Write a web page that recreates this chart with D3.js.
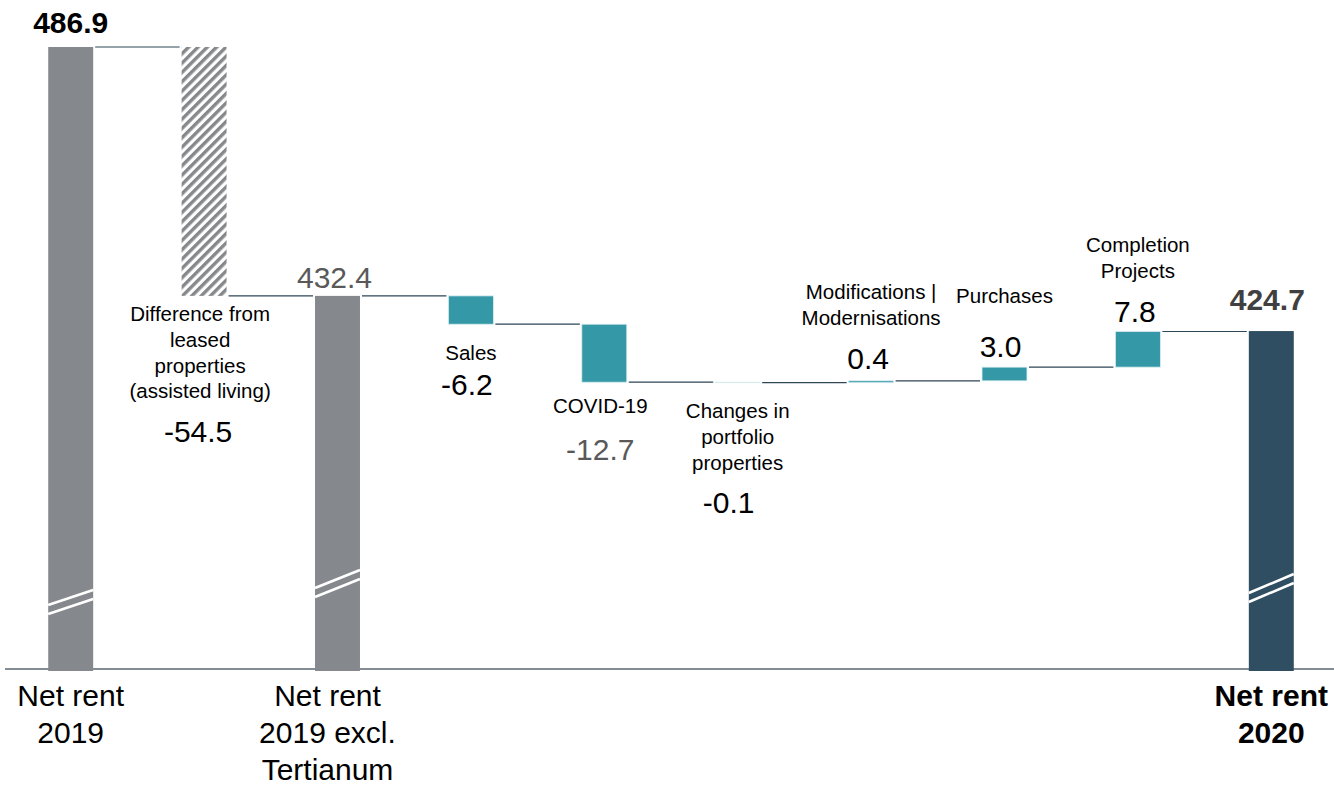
<!DOCTYPE html>
<html>
<head>
<meta charset="utf-8">
<script src="https://cdn.jsdelivr.net/npm/d3@7"></script>
<style>
  html, body { margin: 0; padding: 0; background: #fff; }
  svg text { font-family: "Liberation Sans", Arial, sans-serif; }
</style>
</head>
<body>
<svg id="chart" width="1334" height="786"></svg>
<script>
// chart data
var categories = [
    "Net rent 2019",
    "Difference from leased properties (assisted living)",
    "Net rent 2019 excl. Tertianum",
    "Sales",
    "COVID-19",
    "Changes in portfolio properties",
    "Modifications | Modernisations",
    "Purchases",
    "Completion Projects",
    "Net rent 2020"
];
var values = [486.9, -54.5, 432.4, -6.2, -12.7, -0.1, 0.4, 3.0, 7.8, 424.7];
var kinds = ["total", "hatch", "total", "delta", "delta", "delta", "delta", "delta", "delta", "final"];
var valueLabels = ["486.9", "-54.5", "432.4", "-6.2", "-12.7", "-0.1", "0.4", "3.0", "7.8", "424.7"];

// text layout (lines + baselines), kept apart from the data
var layout = [
    {bottom: ["Net rent", "2019"], valueY: 33, bold: true, color: "#000"},
    {lines: ["Difference from", "leased", "properties", "(assisted living)"], linesY: 321, valueY: 442, dx: -6, linesDx: -4},
    {bottom: ["Net rent", "2019 excl.", "Tertianum"], bottomDx: -10, valueY: 288, color: "#595959", dx: -3},
    {lines: ["Sales"], linesY: 360, valueY: 395, dx: -4},
    {lines: ["COVID-19"], linesY: 413, valueY: 460, color: "#595959", dx: -4, linesDx: -4},
    {lines: ["Changes in", "portfolio", "properties"], linesY: 418, valueY: 513, dx: -9},
    {lines: ["Modifications |", "Modernisations"], linesY: 299, valueY: 369, dx: -3},
    {lines: ["Purchases"], linesY: 303, valueY: 357, dx: -4},
    {lines: ["Completion", "Projects"], linesY: 252, valueY: 322, dx: -3},
    {bottom: ["Net rent", "2020"], bottomBold: true, valueY: 310, bold: true, color: "#404040", dx: -4}
];

// axis break marks on the total bars (left y, right y of upper line)
var breakMarks = {0: [605, 590], 2: [588, 570], 9: [593, 574]};

var width = 1334, height = 786;
var baseY = 669;

var svg = d3.select("#chart");

var x = d3.scaleBand()
    .domain(categories)
    .range([4, 1338])
    .paddingInner(0.663)
    .paddingOuter(0.3315);

var y = d3.scaleLinear()
    .domain([350.7, 486.9])
    .range([baseY, 47]);

// hatch pattern
var defs = svg.append("defs");
var pat = defs.append("pattern")
    .attr("id", "hatch")
    .attr("patternUnits", "userSpaceOnUse")
    .attr("width", 6.6)
    .attr("height", 6.6)
    .attr("patternTransform", "rotate(45)");
pat.append("rect").attr("width", 6.6).attr("height", 6.6).attr("fill", "#fff");
pat.append("rect").attr("width", 3.4).attr("height", 6.6).attr("fill", "#85898d");

// build waterfall segments
var running = 0;
var bars = categories.map(function (c, i) {
    var v = values[i];
    var d = {name: c, i: i, kind: kinds[i], value: v};
    if (kinds[i] === "total" || kinds[i] === "final") {
        d.y0 = y.domain()[0];
        d.y1 = v;
        running = v;
    } else {
        d.y0 = running;
        d.y1 = running + v;
        running = running + v;
    }
    d.end = running;
    return d;
});

// baseline
svg.append("line")
    .attr("x1", 5).attr("x2", width)
    .attr("y1", baseY).attr("y2", baseY)
    .attr("stroke", "#5b6770")
    .attr("stroke-width", 1.5);

var fillFor = function (d) {
    if (d.kind === "total") return "#85898d";
    if (d.kind === "final") return "#2f4e61";
    if (d.kind === "hatch") return "url(#hatch)";
    return "#3598a6";
};

svg.selectAll("rect.bar")
    .data(bars)
    .enter()
    .append("rect")
    .attr("class", "bar")
    .attr("x", function (d) { return x(d.name); })
    .attr("width", x.bandwidth())
    .attr("y", function (d) { return Math.min(y(d.y0), y(d.y1)); })
    .attr("height", function (d) {
        var h = Math.abs(y(d.y0) - y(d.y1));
        if (d.kind === "total" || d.kind === "final") h += 2;
        return h;
    })
    .attr("fill", fillFor)
    .attr("stroke", function (d) { return d.kind === "delta" ? "#d6ecef" : "none"; })
    .attr("stroke-width", 0.8);

// break marks
Object.keys(breakMarks).forEach(function (k) {
    var d = bars[+k];
    var x0 = x(d.name), x1 = x0 + x.bandwidth();
    var m = breakMarks[k];
    [0, 9].forEach(function (off) {
        svg.append("line")
            .attr("x1", x0).attr("x2", x1)
            .attr("y1", m[0] + off).attr("y2", m[1] + off)
            .attr("stroke", "#fff")
            .attr("stroke-width", 2.6);
    });
});

// connectors
svg.selectAll("line.conn")
    .data(bars.slice(0, bars.length - 1))
    .enter()
    .append("line")
    .attr("class", "conn")
    .attr("x1", function (d) { return x(d.name) + x.bandwidth() + 2; })
    .attr("x2", function (d) { return x(categories[d.i + 1]) - 2; })
    .attr("y1", function (d) { return y(d.end); })
    .attr("y2", function (d) { return y(d.end); })
    .attr("stroke", "#2f4656")
    .attr("stroke-width", 1.2);

// labels
bars.forEach(function (d, i) {
    var L = layout[i];
    var cx = x(d.name) + x.bandwidth() / 2;

    svg.append("text")
        .attr("x", cx + (L.dx || 0))
        .attr("y", L.valueY)
        .attr("text-anchor", "middle")
        .attr("font-size", 30)
        .attr("font-weight", L.bold ? "bold" : "normal")
        .attr("fill", L.color || "#000")
        .text(valueLabels[i]);

    if (L.lines) {
        L.lines.forEach(function (t, j) {
            svg.append("text")
                .attr("x", cx + (L.linesDx || 0))
                .attr("y", L.linesY + j * 25.8)
                .attr("text-anchor", "middle")
                .attr("font-size", 20.5)
                .attr("fill", "#000")
                .text(t);
        });
    }
    if (L.bottom) {
        L.bottom.forEach(function (t, j) {
            svg.append("text")
                .attr("x", cx + (L.bottomDx || 0))
                .attr("y", 706 + j * 37)
                .attr("text-anchor", "middle")
                .attr("font-size", 30)
                .attr("font-weight", L.bottomBold ? "bold" : "normal")
                .attr("fill", "#000")
                .text(t);
        });
    }
});
</script>
</body>
</html>
